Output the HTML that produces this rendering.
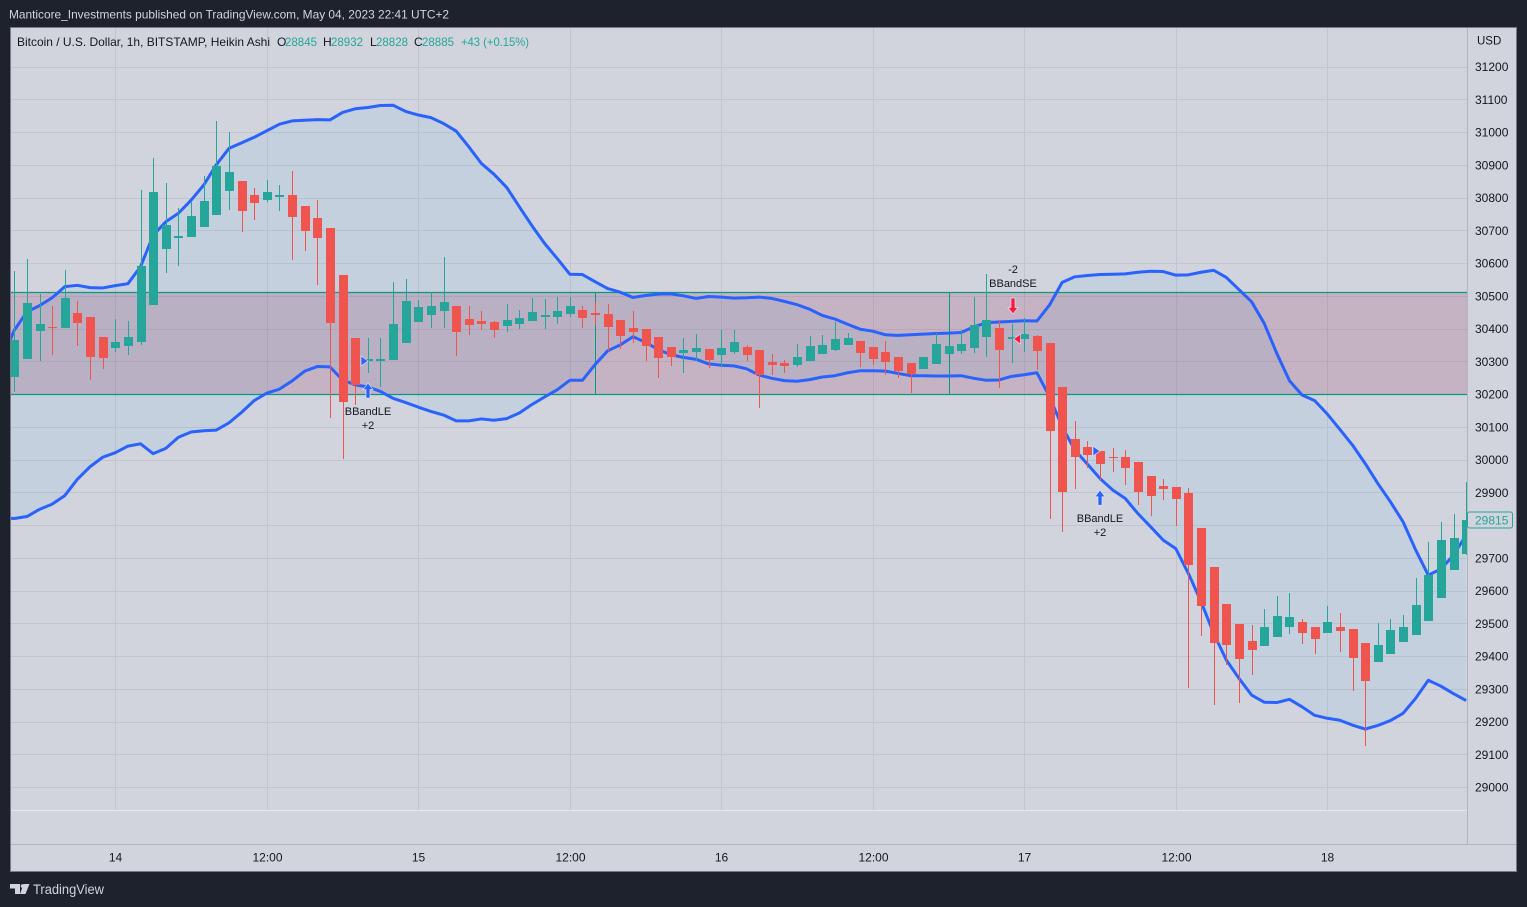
<!DOCTYPE html>
<html lang="en">
<head>
<meta charset="utf-8">
<title>BTCUSD 1h Heikin Ashi chart</title>
<style>
html,body{margin:0;padding:0;background:#1e222d;width:1527px;height:907px;overflow:hidden}
svg{display:block}
text{font-family:"Liberation Sans",sans-serif}
</style>
</head>
<body>
<svg id="chart" xmlns="http://www.w3.org/2000/svg" width="1527" height="907" viewBox="0 0 1527 907">
  <defs>
    <clipPath id="plot-clip"><rect x="11" y="28" width="1456" height="782"/></clipPath>
  </defs>
  <rect x="0" y="0" width="1527" height="907" fill="#1e222d"/>
  <text x="9" y="18.5" font-size="12" fill="#d1d4dc" textLength="440" lengthAdjust="spacingAndGlyphs">Manticore_Investments published on TradingView.com, May 04, 2023 22:41 UTC+2</text>
  <rect x="10.5" y="27.5" width="1506" height="844" fill="#d1d4dc" stroke="#787b86" stroke-width="1"/>
  <g id="grid"></g>
  <g id="plot" clip-path="url(#plot-clip)"></g>
  <g id="markers"></g>
  <line x1="11" y1="810.5" x2="1467" y2="810.5" stroke="#e6e8ee" stroke-width="1"/>
  <line x1="11" y1="844.5" x2="1516" y2="844.5" stroke="#b2b5be" stroke-width="1"/>
  <line x1="1467.5" y1="28" x2="1467.5" y2="844" stroke="#b2b5be" stroke-width="1"/>
  <g id="price-axis"></g>
  <g id="time-axis"></g>
  <text x="1477" y="44.5" font-size="11.5" fill="#131722">USD</text>
  <g font-size="12" fill="#131722">
    <text x="17" y="46" textLength="253" lengthAdjust="spacingAndGlyphs">Bitcoin / U.S. Dollar, 1h, BITSTAMP, Heikin Ashi</text>
    <text x="277" y="46">O</text>
    <text x="285" y="46" fill="#26a69a" textLength="32" lengthAdjust="spacingAndGlyphs">28845</text>
    <text x="323" y="46">H</text>
    <text x="331" y="46" fill="#26a69a" textLength="32" lengthAdjust="spacingAndGlyphs">28932</text>
    <text x="370" y="46">L</text>
    <text x="376" y="46" fill="#26a69a" textLength="32" lengthAdjust="spacingAndGlyphs">28828</text>
    <text x="414" y="46">C</text>
    <text x="422" y="46" fill="#26a69a" textLength="32" lengthAdjust="spacingAndGlyphs">28885</text>
    <text x="461" y="46" fill="#26a69a" textLength="68" lengthAdjust="spacingAndGlyphs">+43 (+0.15%)</text>
  </g>
  <g id="last-price"></g>
  <g fill="#d1d4dc">
    <path d="M10 884h10v10h-5v-5.5h-5zM23.5 884h6l-4 10h-5.5z"/>
    <circle cx="22.5" cy="886" r="1.8"/>
    <text x="33" y="894" font-size="13.5" textLength="71" lengthAdjust="spacingAndGlyphs">TradingView</text>
  </g>
</svg>
<script>
const priceTicks = [31200,31100,31000,30900,30800,30700,30600,30500,30400,30300,30200,30100,30000,29900,29800,29700,29600,29500,29400,29300,29200,29100,29000];
const timeTickLabels = ["14","12:00","15","12:00","16","12:00","17","12:00","18"];
const timeTickBars = [9,21,33,45,57,69,81,93,105];

const opens = [30250,30253,30307,30392,30404,30401,30447,30435,30374,30340,30346,30359,30472,30643,30676,30679,30710,30746,30820,30850,30808,30792,30801,30808,30774,30737,30707,30563,30371,30301,30302,30304,30356,30420,30442,30454,30469,30429,30423,30420,30408,30414,30423,30435,30435,30445,30457,30447,30444,30426,30401,30398,30374,30343,30325,30328,30337,30319,30328,30343,30334,30298,30295,30288,30301,30322,30334,30350,30362,30343,30328,30313,30294,30276,30291,30322,30331,30340,30374,30401,30368,30368,30377,30356,30221,30062,30038,30026,30007,30007,29992,29949,29919,29916,29898,29791,29672,29559,29498,29446,29431,29458,29489,29504,29489,29470,29489,29483,29440,29382,29406,29443,29464,29507,29577,29663,29711];
const highs = [30400,30575,30612,30505,30469,30578,30484,30435,30374,30429,30423,30823,30921,30844,30768,30789,30866,31034,31000,30850,30829,30853,30838,30881,30774,30792,30707,30563,30371,30371,30371,30542,30551,30487,30512,30619,30469,30469,30454,30423,30475,30457,30493,30490,30496,30496,30469,30481,30475,30426,30453,30398,30374,30343,30371,30383,30337,30395,30395,30350,30334,30322,30304,30353,30377,30380,30420,30386,30362,30343,30362,30313,30294,30313,30386,30346,30395,30496,30566,30426,30414,30432,30380,30356,30221,30117,30056,30026,30035,30029,29992,29949,29940,29916,29913,29791,29672,29559,29498,29495,29544,29583,29592,29513,29489,29553,29531,29483,29440,29501,29513,29525,29638,29748,29809,29834,29931];
const lows = [30200,30207,30307,30302,30319,30401,30346,30243,30276,30328,30319,30350,30472,30569,30591,30679,30710,30746,30762,30695,30731,30786,30759,30609,30637,30533,30128,30002,30167,30264,30222,30304,30356,30420,30402,30402,30316,30380,30396,30371,30390,30399,30423,30399,30414,30435,30402,30411,30331,30337,30356,30301,30249,30285,30264,30301,30279,30282,30322,30301,30157,30258,30264,30282,30301,30322,30331,30350,30282,30288,30258,30249,30203,30276,30291,30322,30322,30325,30313,30218,30294,30328,30273,29818,29778,29910,29974,29937,29962,29922,29861,29827,29876,29797,29302,29461,29250,29373,29257,29342,29431,29458,29467,29437,29406,29470,29412,29293,29125,29382,29406,29443,29464,29507,29577,29663,29708];
const closes = [30300,30365,30478,30414,30401,30493,30417,30313,30310,30359,30374,30591,30817,30716,30682,30743,30789,30896,30878,30759,30783,30817,30808,30741,30698,30676,30417,30177,30228,30307,30307,30414,30484,30466,30469,30481,30390,30411,30414,30396,30426,30432,30451,30442,30454,30469,30432,30442,30404,30377,30389,30346,30310,30313,30334,30340,30304,30340,30359,30319,30258,30288,30285,30313,30346,30350,30368,30371,30325,30307,30298,30270,30261,30313,30353,30346,30353,30410,30426,30334,30374,30383,30331,30087,29901,30007,30014,29986,30004,29974,29901,29888,29910,29879,29678,29553,29440,29434,29391,29418,29489,29522,29519,29470,29452,29504,29476,29394,29324,29434,29479,29489,29556,29647,29754,29760,29815];

const upperBand = [30304,30395,30451,30470,30494,30528,30532,30525,30524,30531,30537,30589,30685,30726,30752,30792,30838,30900,30950,30967,30984,31004,31024,31034,31036,31038,31037,31060,31071,31075,31081,31082,31063,31052,31044,31026,31003,30955,30904,30871,30831,30772,30714,30660,30614,30566,30565,30543,30522,30511,30495,30501,30505,30506,30500,30492,30498,30496,30493,30494,30496,30492,30483,30473,30459,30440,30429,30413,30398,30392,30381,30379,30381,30383,30385,30386,30388,30405,30418,30420,30422,30424,30423,30472,30541,30558,30562,30565,30566,30567,30572,30575,30574,30563,30564,30572,30578,30556,30519,30482,30416,30324,30241,30197,30180,30139,30092,30044,29988,29927,29871,29810,29724,29647,29666,29708,29770];
const lowerBand = [29822,29820,29826,29848,29864,29890,29940,29978,30007,30021,30041,30048,30018,30034,30068,30084,30088,30090,30112,30144,30180,30203,30215,30240,30270,30284,30283,30243,30228,30222,30208,30187,30174,30160,30147,30136,30118,30118,30124,30120,30125,30142,30168,30191,30213,30242,30242,30290,30332,30350,30375,30358,30336,30320,30312,30306,30292,30288,30286,30277,30258,30248,30241,30239,30244,30252,30256,30265,30271,30271,30270,30263,30256,30256,30255,30255,30256,30248,30242,30243,30254,30259,30265,30192,30100,30029,29986,29942,29907,29881,29835,29795,29754,29728,29652,29566,29469,29388,29332,29281,29259,29258,29268,29245,29219,29210,29204,29189,29177,29188,29203,29225,29271,29326,29308,29285,29264];

const rangeHigh = 30512;
const rangeLow = 30199;
const rangeEdgeBars = [47,75];
const longSignalBars = [29,87];
const longSignalLabels = ["BBandLE","BBandLE"];
const longSignalSizes = ["+2","+2"];
const shortSignalBars = [80];
const shortSignalLabels = ["BBandSE"];
const shortSignalSizes = ["-2"];
const lastPrice = 29815;

const UP = '#26a69a', DOWN = '#f0544f', BAND = '#2962ff', RANGE = '#089981', TICK = '#131722';
const SVGNS = 'http://www.w3.org/2000/svg';

function xRaw(i){ return 1.675 + 12.625 * i; }
function xScale(i){ return Math.round(xRaw(i)) + 0.5; }
function yScale(p){ return 492.3 + (29900 - p) * 0.3275; }

function make(tag, parent, attrs){
  const el = document.createElementNS(SVGNS, tag);
  for (const k in attrs) el.setAttribute(k, attrs[k]);
  parent.appendChild(el);
  return el;
}

const grid = document.getElementById('grid');
const plot = document.getElementById('plot');
const markers = document.getElementById('markers');
const priceAxis = document.getElementById('price-axis');
const timeAxis = document.getElementById('time-axis');
const lastGroup = document.getElementById('last-price');

priceTicks.forEach(function(p){
  const y = Math.round(yScale(p)) + 0.5;
  const line = make('line', grid, {x1:11, x2:1467, y1:y, y2:y, stroke:'#c2c5cf', 'stroke-width':1});
  
  
  if (Math.abs(yScale(p) - yScale(lastPrice)) < 14) return;
  const label = make('text', priceAxis, {x:1475, y:yScale(p)+4.5, 'font-size':12, fill:TICK});
  label.textContent = String(p);
  
  
});

timeTickBars.forEach(function(b, k){
  const x = xScale(b);
  const line = make('line', grid, {x1:x, x2:x, y1:28, y2:810, stroke:'#c2c5cf', 'stroke-width':1});
  
  
  const label = make('text', timeAxis, {x:x, y:861.5, 'font-size':12, fill:TICK, 'text-anchor':'middle'});
  label.textContent = timeTickLabels[k];
  
  
});

function linePath(values){
  return values.map(function(v, i){ return (i ? 'L' : 'M') + xRaw(i).toFixed(2) + ' ' + yScale(v).toFixed(2); }).join('');
}
function fillPath(){
  let d = linePath(upperBand);
  for (let i = lowerBand.length - 1; i >= 0; i--) d += 'L' + xRaw(i).toFixed(2) + ' ' + yScale(lowerBand[i]).toFixed(2);
  return d + 'Z';
}

const bandFill = make('path', plot, {d:fillPath(), fill:'#2196f3', 'fill-opacity':0.07});



const rangeY1 = Math.round(yScale(rangeHigh));
const rangeY2 = Math.round(yScale(rangeLow));
const rangeBox = make('rect', plot, {x:11, y:rangeY1, width:1456, height:rangeY2-rangeY1, fill:'rgb(149,52,100)', 'fill-opacity':0.2});



[rangeHigh, rangeLow].forEach(function(level){
  const y = Math.round(yScale(level)) + 0.5;
  const line = make('line', plot, {x1:11, x2:1467, y1:y, y2:y, stroke:RANGE, 'stroke-width':1.3});
  
  
});

rangeEdgeBars.forEach(function(b){
  const x = xScale(b);
  const line = make('line', plot, {x1:x, x2:x, y1:yScale(rangeHigh), y2:yScale(rangeLow), stroke:RANGE, 'stroke-width':1});
  
  
});

[upperBand, lowerBand].forEach(function(series, n){
  const line = make('path', plot, {d:linePath(series), fill:'none', stroke:BAND, 'stroke-width':3, 'stroke-linejoin':'round'});
  
  
});

opens.forEach(function(o, i){
  const c = closes[i];
  const color = c >= o ? UP : DOWN;
  const x = xScale(i);
  const wick = make('line', plot, {x1:x, x2:x, y1:Math.round(yScale(highs[i])), y2:Math.round(yScale(lows[i])), stroke:color, 'stroke-width':1});
  
  
  const top = Math.round(yScale(Math.max(o, c)));
  const bottom = Math.round(yScale(Math.min(o, c)));
  const body = make('rect', plot, {x:x-4.5, y:top, width:9, height:Math.max(1, bottom-top), fill:color, 'shape-rendering':'crispEdges'});
  
  
});

function poly(points, color){
  return make('polygon', markers, {points:points.map(function(p){ return p.join(','); }).join(' '), fill:color, stroke:'#e4e7ef', 'stroke-width':0.7, 'stroke-opacity':0.9});
}
function note(x, y){
  return make('text', markers, {x:x, y:y, 'font-size':11, fill:TICK, 'text-anchor':'middle'});
}

longSignalBars.forEach(function(b, k){
  const cx = xScale(b) - 0.5;
  const top = yScale(lows[b]) + 10;
  const fy = yScale(opens[b]);
  const tri = poly([[cx-7,fy-5],[cx,fy],[cx-7,fy+5]], BAND);
  
  
  const arrow = poly([[cx,top],[cx+5,top+6.5],[cx+2,top+6.5],[cx+2,top+15],[cx-2,top+15],[cx-2,top+6.5],[cx-5,top+6.5]], BAND);
  
  
  const name = note(cx, top+32);
  name.textContent = longSignalLabels[k];
  
  
  const size = note(cx, top+46);
  size.textContent = longSignalSizes[k];
  
  
});

shortSignalBars.forEach(function(b, k){
  const cx = xScale(b) + 0.5;
  const bot = yScale(highs[b]) - 10;
  const fy = yScale(opens[b]);
  const tri = poly([[cx+7.5,fy-5],[cx+0.5,fy],[cx+7.5,fy+5]], '#ff1744');
  
  
  const arrow = poly([[cx,bot],[cx+5,bot-6.5],[cx+2,bot-6.5],[cx+2,bot-16],[cx-2,bot-16],[cx-2,bot-6.5],[cx-5,bot-6.5]], '#ff1744');
  
  
  const name = note(cx, bot-27);
  name.textContent = shortSignalLabels[k];
  
  
  const size = note(cx, bot-41);
  size.textContent = shortSignalSizes[k];
  
  
});

const lastY = Math.round(yScale(lastPrice));
const lastBox = make('rect', lastGroup, {x:1467.5, y:lastY-8, width:45, height:16, rx:2, fill:'#d1d4dc', stroke:UP, 'stroke-width':1});


const lastText = make('text', lastGroup, {x:1475, y:lastY+4.5, 'font-size':12, fill:UP});
lastText.textContent = String(lastPrice);


</script>
</body>
</html>
